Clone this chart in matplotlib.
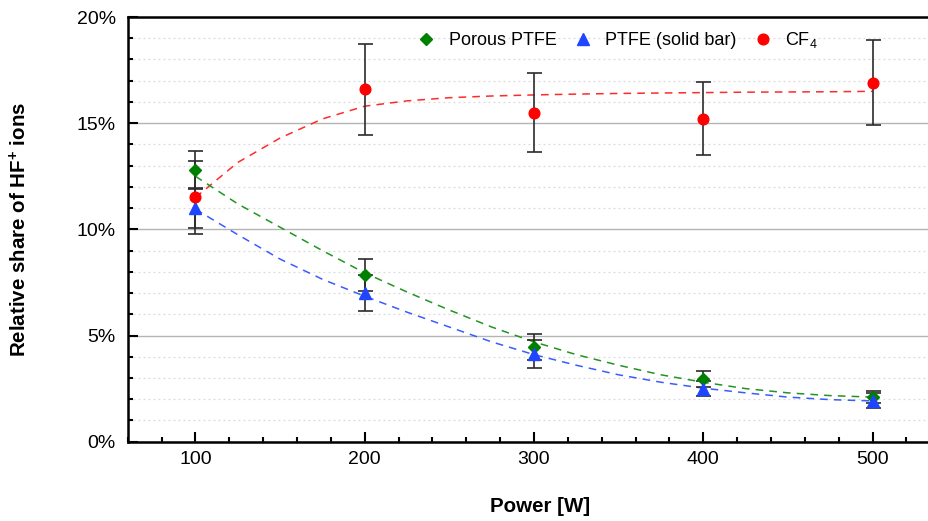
import numpy as np
import matplotlib
matplotlib.use("Agg")
import matplotlib.pyplot as plt
from matplotlib.ticker import MultipleLocator, FuncFormatter

plt.rcParams['font.family'] = ['Liberation Sans', 'DejaVu Sans']
plt.rcParams['mathtext.default'] = 'regular'

# measured points
power = [100, 200, 300, 400, 500]
porous = [12.8, 7.85, 4.45, 2.95, 2.1]
porous_err = [0.9, 0.75, 0.6, 0.38, 0.3]
solid = [11.0, 7.0, 4.12, 2.5, 1.92]
solid_err = [0.95, 0.85, 0.67, 0.35, 0.35]
cf4 = [11.5, 16.6, 15.5, 15.22, 16.9]
cf4_err = [1.7, 2.15, 1.85, 1.7, 2.0]

# fit curves
fit_power = [100, 125, 150, 175, 200, 225, 250, 275, 300,
             325, 350, 375, 400, 425, 450, 475, 500]
porous_fit = [12.5, 11.2, 10.1, 9.0, 7.95, 7.05, 6.2, 5.4, 4.7,
              4.1, 3.6, 3.15, 2.8, 2.5, 2.3, 2.17, 2.1]
solid_fit = [10.95, 9.75, 8.6, 7.65, 6.85, 6.1, 5.4, 4.7, 4.1,
             3.6, 3.15, 2.8, 2.52, 2.3, 2.1, 1.98, 1.92]
cf4_fit = [11.5, 13.15, 14.3, 15.2, 15.8, 16.05, 16.2, 16.28, 16.33,
           16.37, 16.4, 16.42, 16.44, 16.46, 16.47, 16.48, 16.5]

c_green = '#008000'
c_blue = '#1f45ff'
c_red = '#ff0000'

fig = plt.figure(figsize=(9.29, 5.21), dpi=100)
ax = fig.add_axes([127.7 / 929, 1 - 441.7 / 521, 1 - 127.7 / 929, (441.7 - 17) / 521])

# grid
ax.yaxis.set_major_locator(MultipleLocator(5))
ax.yaxis.set_minor_locator(MultipleLocator(1))
ax.xaxis.set_major_locator(MultipleLocator(100))
ax.xaxis.set_minor_locator(MultipleLocator(20))
ax.grid(True, which='major', axis='y', color='#b4b4b4', linewidth=1.0)
ax.grid(True, which='minor', axis='y', color='#dadada', linewidth=0.9, linestyle=(0, (1.5, 2.5)))
ax.set_axisbelow(True)

# fit lines
ax.plot(fit_power, cf4_fit, color='#ff2a2a', linestyle=(0, (5, 4)), linewidth=1.1, zorder=2)
ax.plot(fit_power, porous_fit, color='#219421', linestyle=(0, (5, 4)), linewidth=1.1, zorder=2)
ax.plot(fit_power, solid_fit, color='#3a5cff', linestyle=(0, (5, 4)), linewidth=1.1, zorder=2)

# error bars
ekw = dict(fmt='none', ecolor='#2b2b2b', elinewidth=1.2, capsize=5.4, capthick=1.2, zorder=3)
ax.errorbar(power, cf4, yerr=cf4_err, **ekw)
ax.errorbar(power, porous, yerr=porous_err, **ekw)
ax.errorbar(power, solid, yerr=solid_err, **ekw)

# markers
ax.plot(power, porous, linestyle='none', marker='D', markersize=6.6, color=c_green,
        label='Porous PTFE', zorder=4)
ax.plot(power, solid, linestyle='none', marker='^', markersize=8.5, color=c_blue,
        label='PTFE (solid bar)', zorder=4)
ax.plot(power, cf4, linestyle='none', marker='o', markersize=7.7, color=c_red,
        label='CF$_4$', zorder=4)

ax.set_xlim(60, 533.3)
ax.set_ylim(0, 20)
ax.yaxis.set_major_formatter(FuncFormatter(lambda v, p: f'{v:.0f}%'))

ax.tick_params(which='both', direction='in', width=1.5, labelsize=14, colors='black')
ax.tick_params(which='major', length=7)
ax.tick_params(which='minor', length=3.6)
ax.tick_params(axis='y', pad=8.5)
ax.tick_params(axis='x', pad=7)
ax.tick_params(axis='y', which='both', right=False)

for s in ['left', 'bottom', 'top']:
    ax.spines[s].set_linewidth(1.8)
ax.spines['right'].set_visible(False)

ax.set_xlabel('Power [W]', fontsize=14.8, fontweight='bold')
ax.set_ylabel('Relative share of HF$^{+}$ ions', fontsize=14.8, fontweight='bold')
ax.xaxis.set_label_coords(0.5145, -0.13)
ax.yaxis.set_label_coords(-0.122, 0.5)

ax.legend(loc='center left', bbox_to_anchor=(0.361, 0.946), ncol=3, frameon=False,
          fontsize=13, handlelength=1.0, handletextpad=0.75, columnspacing=0.95,
          borderaxespad=0, borderpad=0)

fig.savefig('out.png', dpi=100)
